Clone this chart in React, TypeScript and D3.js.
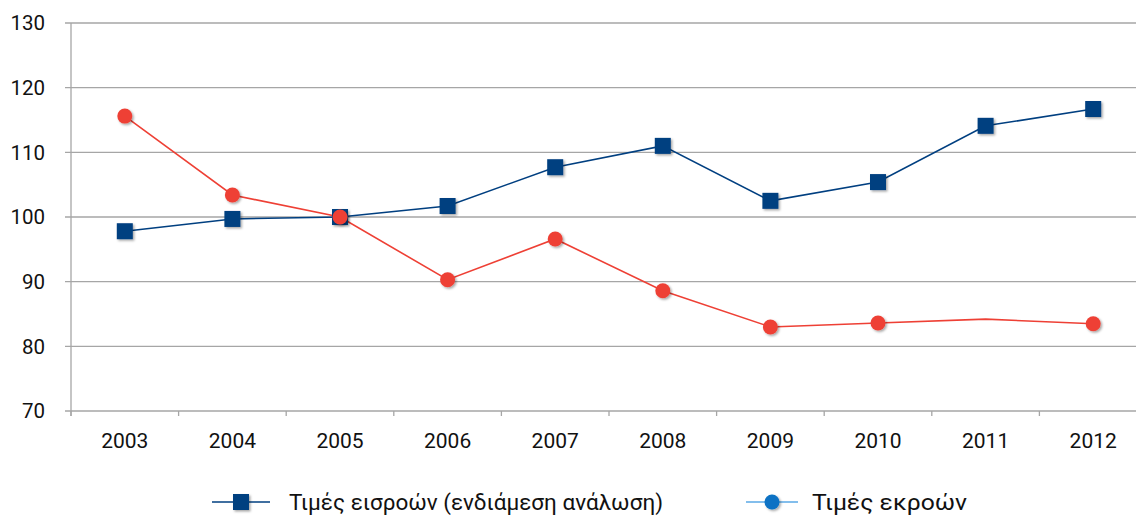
import React, { useEffect, useRef } from 'react';
import * as d3 from 'd3';

const years = ['2003', '2004', '2005', '2006', '2007', '2008', '2009', '2010', '2011', '2012'];
const inputPrices = [97.8, 99.7, 100, 101.7, 107.7, 111.0, 102.5, 105.4, 114.1, 116.7];
const outputPrices = [115.6, 103.4, 100, 90.3, 96.6, 88.6, 83.0, 83.6, 84.2, 83.5];
// 2011 has no marker on the output series in the original
const outputMarkers = [true, true, true, true, true, true, true, true, false, true];
const yTicks = [70, 80, 90, 100, 110, 120, 130];
const legendLabels = ['Τιμές εισροών (ενδιάμεση ανάλωση)', 'Τιμές εκροών'];

const W = 1136;
const H = 517;
const margin = { top: 23, right: -11, bottom: 106, left: 71 };
const FONT = 'Roboto, "DejaVu Sans", sans-serif';

export default function App() {
  const svgRef = useRef<SVGSVGElement>(null);

  useEffect(() => {
    if (!svgRef.current) return;
    const svg = d3.select(svgRef.current);
    svg.selectAll('*').remove();

    const defs = svg.append('defs');
    const f = defs.append('filter').attr('id', 'shadow').attr('x', '-50%').attr('y', '-50%').attr('width', '200%').attr('height', '200%');
    f.append('feDropShadow').attr('dx', 1.5).attr('dy', 1.5).attr('stdDeviation', 1.2).attr('flood-color', '#000').attr('flood-opacity', 0.35);

    const innerW = W - margin.left - margin.right;
    const innerH = H - margin.top - margin.bottom;

    const x = d3.scaleBand().domain(years).range([margin.left, margin.left + innerW]);
    const y = d3.scaleLinear().domain([70, 130]).range([margin.top + innerH, margin.top]);
    const cx = (d: string) => (x(d) || 0) + x.bandwidth() / 2;

    // gridlines
    svg.append('g')
      .selectAll('line')
      .data(yTicks)
      .enter()
      .append('line')
      .attr('x1', margin.left - 6)
      .attr('x2', margin.left + innerW)
      .attr('y1', d => y(d))
      .attr('y2', d => y(d))
      .attr('stroke', '#a6a6a6')
      .attr('stroke-width', 1.3);

    // y axis line
    svg.append('line')
      .attr('x1', margin.left).attr('x2', margin.left)
      .attr('y1', y(130)).attr('y2', y(70) + 5)
      .attr('stroke', '#a6a6a6').attr('stroke-width', 1.3);

    // x ticks
    svg.append('g')
      .selectAll('line')
      .data(years.concat(['end']))
      .enter()
      .append('line')
      .attr('x1', (d, i) => margin.left + i * x.bandwidth())
      .attr('x2', (d, i) => margin.left + i * x.bandwidth())
      .attr('y1', y(70))
      .attr('y2', y(70) + 5)
      .attr('stroke', '#a6a6a6').attr('stroke-width', 1.3);

    // y labels
    svg.append('g')
      .selectAll('text')
      .data(yTicks)
      .enter()
      .append('text')
      .attr('x', 45)
      .attr('y', d => y(d))
      .attr('dy', '0.35em')
      .attr('text-anchor', 'end')
      .style('font-family', FONT)
      .style('font-size', '20.5px')
      .style('fill', '#111')
      .text(d => d);

    // x labels
    svg.append('g')
      .selectAll('text')
      .data(years)
      .enter()
      .append('text')
      .attr('x', d => cx(d))
      .attr('y', y(70) + 37)
      .attr('text-anchor', 'middle')
      .style('font-family', FONT)
      .style('font-size', '21px')
      .style('fill', '#111')
      .text(d => d);

    const line = d3.line<number>().x((d, i) => cx(years[i])).y(d => y(d));

    // output series (red)
    svg.append('path')
      .datum(outputPrices)
      .attr('d', line)
      .attr('fill', 'none')
      .attr('stroke', '#ee4035')
      .attr('stroke-width', 1.6);

    // input series (blue)
    svg.append('path')
      .datum(inputPrices)
      .attr('d', line)
      .attr('fill', 'none')
      .attr('stroke', '#003f80')
      .attr('stroke-width', 1.6);

    svg.append('g')
      .selectAll('rect')
      .data(inputPrices)
      .enter()
      .append('rect')
      .attr('x', (d, i) => cx(years[i]) - 8)
      .attr('y', d => y(d) - 8)
      .attr('width', 16)
      .attr('height', 16)
      .attr('fill', '#003f80')
      .attr('filter', 'url(#shadow)');

    svg.append('g')
      .selectAll('circle')
      .data(outputPrices.map((v, i) => ({ v, i })).filter(d => outputMarkers[d.i]))
      .enter()
      .append('circle')
      .attr('cx', d => cx(years[d.i]))
      .attr('cy', d => y(d.v))
      .attr('r', 7.5)
      .attr('fill', '#ee4035')
      .attr('filter', 'url(#shadow)');

    // legend
    const lg = svg.append('g');
    const ly = 502;
    lg.append('line').attr('x1', 212).attr('x2', 270).attr('y1', ly).attr('y2', ly)
      .attr('stroke', '#003f80').attr('stroke-width', 1.6);
    lg.append('rect').attr('x', 233).attr('y', ly - 8).attr('width', 16).attr('height', 16)
      .attr('fill', '#003f80').attr('filter', 'url(#shadow)');
    lg.append('text').attr('x', 289).attr('y', ly).attr('dy', '0.35em')
      .attr('textLength', 374).attr('lengthAdjust', 'spacingAndGlyphs')
      .style('font-family', FONT).style('font-size', '22px').style('fill', '#111')
      .text(legendLabels[0]);

    lg.append('line').attr('x1', 746).attr('x2', 798).attr('y1', ly).attr('y2', ly)
      .attr('stroke', '#5aa9e6').attr('stroke-width', 1.6);
    lg.append('circle').attr('cx', 772).attr('cy', ly).attr('r', 7.5)
      .attr('fill', '#0a72c4').attr('filter', 'url(#shadow)');
    lg.append('text').attr('x', 812).attr('y', ly).attr('dy', '0.35em')
      .attr('textLength', 155).attr('lengthAdjust', 'spacingAndGlyphs')
      .style('font-family', FONT).style('font-size', '22px').style('fill', '#111')
      .text(legendLabels[1]);
  }, []);

  return (
    <div style={{ position: 'absolute', left: 0, top: 0 }}>
      <svg ref={svgRef} width={W} height={H} style={{ display: 'block', background: '#fff' }} />
    </div>
  );
}
